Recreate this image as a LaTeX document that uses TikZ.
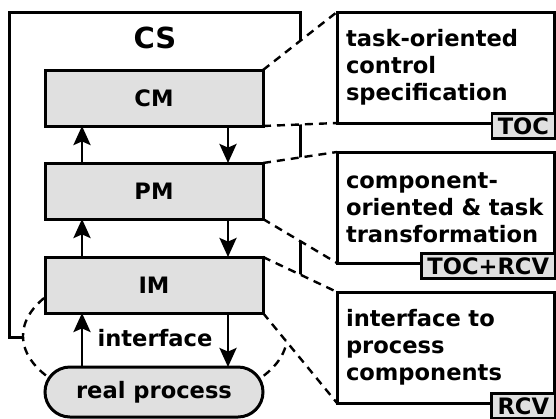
\documentclass[tikz,border=0pt]{standalone}
\usepackage{fontspec}
\setmainfont{DejaVu Sans}
\usepackage{xcolor}
\usepackage{tikz}
\usetikzlibrary{arrows.meta,positioning,backgrounds}
\definecolor{modgray}{RGB}{224,224,224}

\begin{document}
\begin{tikzpicture}[x=0.5pt,y=-0.5pt,>={Stealth[length=9.5pt,width=8.5pt,inset=1.8pt]},
  font=\bfseries\fontsize{11.3}{13.6}\selectfont,
  module/.style={rectangle,draw,fill=modgray,line width=1.5pt,outer sep=0pt,minimum width=109pt,minimum height=28pt},
  proc/.style={module,rounded corners=12.5pt,minimum height=25pt},
  desc/.style={rectangle,draw,fill=white,line width=1.5pt,outer sep=0pt,minimum width=108.5pt,minimum height=55.5pt,
    text width=99.5pt,inner sep=4.5pt,align=left},
  tag/.style={rectangle,draw,fill=modgray,line width=1.2pt,outer sep=0pt,inner xsep=3pt,inner ysep=0pt,minimum height=12.5pt,anchor=east},
  link/.style={line width=1.2pt,dash pattern=on 4pt off 3pt},
  flow/.style={->,line width=1.4pt}]
\useasboundingbox (0,0) rectangle (556,418);
\node[module] (cm) at (154,98) {CM};
\node[module,below=18.5pt of cm] (pm) {PM};
\node[module,below=19pt of pm] (im) {IM};
\node[proc,below=27pt of im] (real) {real process};
\node[font=\bfseries\fontsize{14.5}{16}\selectfont] (cs) at (155,38) {CS};
\node (iface) at (155,338) {interface};
\node[desc] (spec) at (445.5,67.5) {task-oriented\\control\\specification};
\node[desc,below=14.5pt of spec] (trans) {component-\\oriented \& task\\transformation};
\node[desc,below=14.5pt of trans] (intf) {interface to\\process\\components};
\node[tag] (ttoc) at ([xshift=0.5pt,yshift=-1.5pt]spec.south east) {TOC};
\node[tag] (ttr) at ([xshift=0.5pt,yshift=-1.5pt]trans.south east) {TOC+RCV};
\node[tag] (trcv) at ([xshift=0.5pt,yshift=-1.5pt]intf.south east) {RCV};
\begin{pgfonlayer}{background}
\draw[line width=1.5pt] (9,12) rectangle (300,337);
\draw[link,fill=white] (155,336) ellipse [x radius=66pt,y radius=35pt];
\fill[white] (cm.north east) -- (spec.north west) -- (spec.south west) -- (cm.south east) -- cycle;
\fill[white] (pm.north east) -- (trans.north west) -- (trans.south west) -- (pm.south east) -- cycle;
\fill[white] (im.north east) -- (intf.north west) -- (intf.south west) -- (im.south east) -- cycle;
\end{pgfonlayer}
\draw[link] (cm.north east) -- (spec.north west);\draw[link] (cm.south east) -- (spec.south west);
\draw[link] (pm.north east) -- (trans.north west);\draw[link] (pm.south east) -- (trans.south west);
\draw[link] (im.north east) -- (intf.north west);\draw[link] (im.south east) -- (intf.south west);
\draw[flow] ([xshift=18.5pt]pm.north west) -- ([xshift=18.5pt]cm.south west);
\draw[flow] ([xshift=-17.5pt]cm.south east) -- ([xshift=-17.5pt]pm.north east);
\draw[flow] ([xshift=18.5pt]im.north west) -- ([xshift=18.5pt]pm.south west);
\draw[flow] ([xshift=-17.5pt]pm.south east) -- ([xshift=-17.5pt]im.north east);
\draw[flow] ([xshift=18.5pt]real.north west) -- ([xshift=18.5pt]im.south west);
\draw[flow] ([xshift=-17.5pt]im.south east) -- ([xshift=-17.5pt]real.north east);
\end{tikzpicture}
\end{document}
